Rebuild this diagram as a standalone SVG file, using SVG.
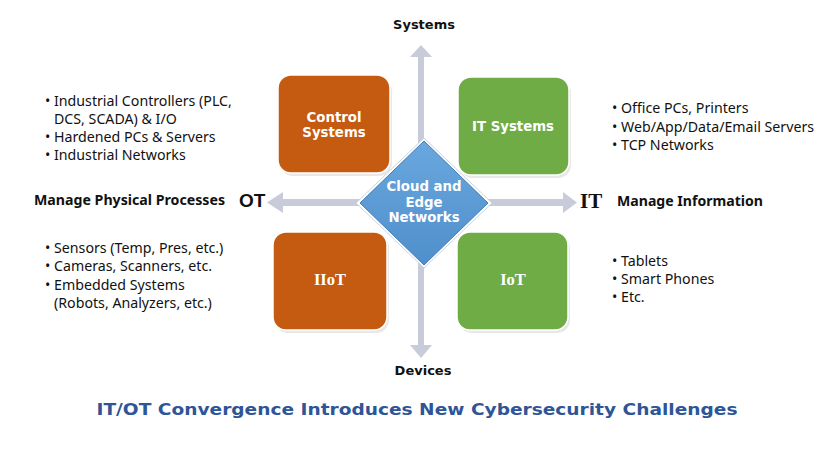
<svg xmlns="http://www.w3.org/2000/svg" width="839" height="449" viewBox="0 0 839 449">
<style>
.box-o{fill:#C55A11;stroke:#fff;stroke-width:1.5}
.box-g{fill:#6FAC46;stroke:#fff;stroke-width:1.5}
.shadow{fill:#d9d9d9;opacity:0.6}
.lbl{font-family:"DejaVu Sans",Verdana,sans-serif;font-weight:bold;font-size:13.3px;fill:#fff;text-anchor:middle}
.lbls{font-family:"Liberation Serif","Times New Roman",serif;font-weight:bold;font-size:16.5px;fill:#fff;text-anchor:middle}
.axis{font-family:"DejaVu Sans",Verdana,sans-serif;font-weight:bold;font-size:13px;fill:#111;text-anchor:middle}
.list{font-family:"Noto Sans","Open Sans",sans-serif;font-size:14.2px;fill:#111}
.head{font-family:"Noto Sans","Open Sans",sans-serif;font-weight:bold;font-size:14px;fill:#111}
.arrow{fill:#C8CCDA}
</style>
<defs>
<linearGradient id="dg" x1="0" y1="0" x2="0" y2="1">
<stop offset="0" stop-color="#6AA7DE"/>
<stop offset="1" stop-color="#4F8FCB"/>
</linearGradient>
</defs>
<rect width="839" height="449" fill="#fff"/>
<g id="connectors">
<path class="arrow" d="M418,57 L410,57 L421,45 L432,57 L424,57 L424,345 L432,345 L421,358 L410,345 L418,345 Z"/>
<path class="arrow" d="M283,199 L283,192 L267,202.5 L283,213 L283,206 L563,206 L563,213 L577,202.5 L563,192 L563,199 Z"/>
</g>
<g id="control-systems">
<rect class="shadow" x="280" y="78" width="112" height="98" rx="13"/>
<rect class="box-o" x="278" y="75" width="112" height="98" rx="13"/>
<text class="lbl" x="334" y="122">Control</text>
<text class="lbl" x="334" y="137">Systems</text>
</g>
<g id="it-systems">
<rect class="shadow" x="460" y="80" width="111" height="98" rx="13"/>
<rect class="box-g" x="458" y="77" width="111" height="98" rx="13"/>
<text class="lbl" x="513" y="131">IT Systems</text>
</g>
<g id="iiot">
<rect class="shadow" x="275" y="235" width="114" height="98" rx="13"/>
<rect class="box-o" x="273" y="232" width="114" height="98" rx="13"/>
<text class="lbls" x="330" y="285">IIoT</text>
</g>
<g id="iot">
<rect class="shadow" x="459" y="235" width="111" height="98" rx="13"/>
<rect class="box-g" x="457" y="232" width="111" height="98" rx="13"/>
<text class="lbls" x="513" y="285">IoT</text>
</g>
<g id="cloud-edge">
<path d="M424,138 L492,203 L424,268 L356,203 Z" fill="#fff" stroke="#c9d3df" stroke-width="1"/>
<path d="M424,141 L488,203 L424,265 L360,203 Z" fill="url(#dg)" stroke="#3F7DB8" stroke-width="1"/>
<text class="lbl" x="424" y="191">Cloud and</text>
<text class="lbl" x="424" y="207">Edge</text>
<text class="lbl" x="424" y="222">Networks</text>
</g>
<g id="axis-labels">
<text class="axis" x="424" y="29">Systems</text>
<text class="axis" x="423" y="375">Devices</text>
<text class="head" x="34" y="205" textLength="191" lengthAdjust="spacingAndGlyphs">Manage Physical Processes</text>
<text x="239" y="207" font-family="Liberation Sans, Arial, sans-serif" font-weight="bold" font-size="19" fill="#111">OT</text>
<text x="580" y="208" font-family="Liberation Serif, Times New Roman, serif" font-weight="bold" font-size="21" fill="#111">IT</text>
<text class="head" x="617" y="206" textLength="146" lengthAdjust="spacingAndGlyphs">Manage Information</text>
</g>
<g id="ot-systems-list">
<text class="list" x="45" y="106">• Industrial Controllers (PLC,</text>
<text class="list" x="54" y="124">DCS, SCADA) &amp; I/O</text>
<text class="list" x="45" y="142">• Hardened PCs &amp; Servers</text>
<text class="list" x="45" y="160">• Industrial Networks</text>
</g>
<g id="ot-devices-list">
<text class="list" x="45" y="253">• Sensors (Temp, Pres, etc.)</text>
<text class="list" x="45" y="271">• Cameras, Scanners, etc.</text>
<text class="list" x="45" y="290">• Embedded Systems</text>
<text class="list" x="54" y="308">(Robots, Analyzers, etc.)</text>
</g>
<g id="it-systems-list">
<text class="list" x="612" y="113">• Office PCs, Printers</text>
<text class="list" x="612" y="132">• Web/App/Data/Email Servers</text>
<text class="list" x="612" y="150">• TCP Networks</text>
</g>
<g id="it-devices-list">
<text class="list" x="612" y="266">• Tablets</text>
<text class="list" x="612" y="284">• Smart Phones</text>
<text class="list" x="612" y="302">• Etc.</text>
</g>
<text x="417" y="415" text-anchor="middle" font-family="DejaVu Sans, Verdana, sans-serif" font-weight="bold" font-size="16.5" fill="#2E5597" textLength="641" lengthAdjust="spacingAndGlyphs">IT/OT Convergence Introduces New Cybersecurity Challenges</text>
</svg>
